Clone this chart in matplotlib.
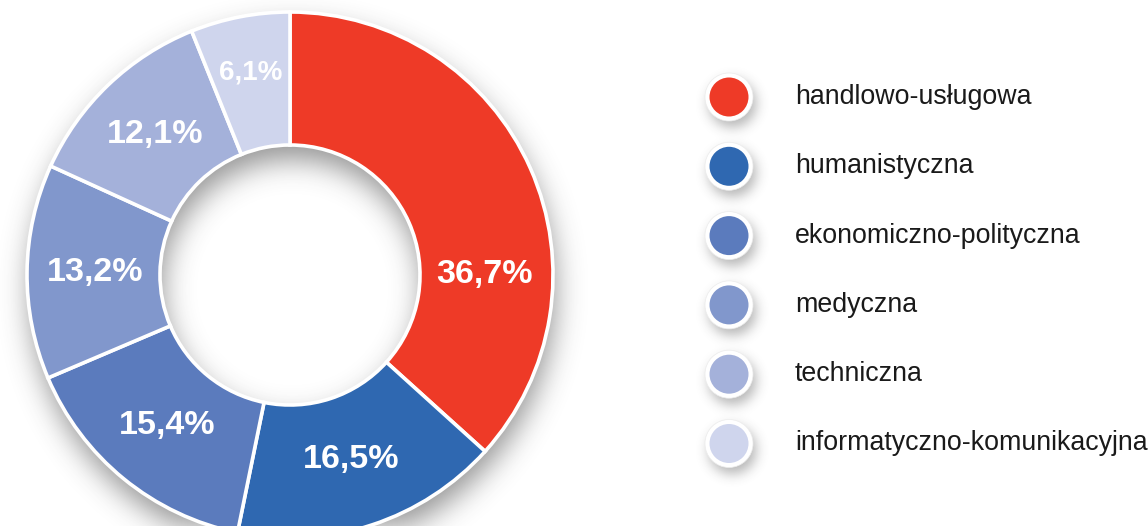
import numpy as np
import matplotlib
matplotlib.use('Agg')
import matplotlib.pyplot as plt
from matplotlib.patches import Circle

plt.rcParams['font.family'] = ['Liberation Sans', 'DejaVu Sans']

W, H = 1148, 526

categories = ['handlowo-usługowa', 'humanistyczna', 'ekonomiczno-polityczna',
              'medyczna', 'techniczna', 'informatyczno-komunikacyjna']
shares = [36.7, 16.5, 15.4, 13.2, 12.1, 6.1]
colors = ['#EE3A27', '#2F68B1', '#5B7BBD', '#8197CC', '#A4B1DA', '#CFD5ED']

# layout (pixels, y measured from top)
cx, cy = 290, 275
r_out, r_in = 263, 130
leg_x, leg_y0, leg_dy = 729, 97, 69.3
leg_r_out, leg_r_in = 24, 19.5


def blur(img, sigma):
    k = np.arange(-3 * sigma, 3 * sigma + 1)
    g = np.exp(-k ** 2 / (2.0 * sigma ** 2))
    g /= g.sum()
    out = np.apply_along_axis(lambda m: np.convolve(m, g, mode='same'), 0, img)
    out = np.apply_along_axis(lambda m: np.convolve(m, g, mode='same'), 1, out)
    return out


# soft drop shadows behind the ring and the legend dots
yy, xx = np.mgrid[0:H, 0:W]
d = np.hypot(xx - (cx + 2), yy - (cy + 14))
mask = ((d <= r_out) & (d >= r_in)).astype(float)
ring_sh = blur(mask, 14) * 0.55
lm = np.zeros((H, W))
for i in range(len(categories)):
    dl = np.hypot(xx - (leg_x + 3), yy - (leg_y0 + i * leg_dy + 6))
    lm[dl <= leg_r_out] = 1.0
leg_sh = blur(lm, 6) * 0.38
alpha = np.clip(ring_sh + leg_sh, 0, 1)
shadow = np.zeros((H, W, 4))
shadow[..., :3] = 0.25
shadow[..., 3] = alpha

fig = plt.figure(figsize=(W / 100, H / 100), dpi=100)
ax = fig.add_axes([0, 0, 1, 1])
ax.imshow(shadow, extent=(0, W, 0, H), origin='upper', zorder=0,
          interpolation='bilinear')

wedges, texts, pcts = ax.pie(
    shares, colors=colors, startangle=90, counterclock=False,
    radius=r_out, center=(cx, H - cy),
    wedgeprops=dict(width=r_out - r_in, edgecolor='white', linewidth=2.6),
    autopct=lambda p: f'{p:.1f}%'.replace('.', ','), pctdistance=0.74,
    textprops=dict(color='white', fontsize=24.5, fontweight='bold'))

# red label sits on the horizontal axis, small one a bit further out
pcts[0].set_position((cx + 0.74 * r_out, H - cy))
x5, y5 = pcts[5].get_position()
pcts[5].set_position((cx + (x5 - cx) * 1.06, H - cy + (y5 - (H - cy)) * 1.06))
pcts[5].set_fontsize(20)
for w in wedges:
    w.set_zorder(2)
for t in pcts:
    t.set_zorder(3)

for i, (cat, col) in enumerate(zip(categories, colors)):
    y = H - (leg_y0 + i * leg_dy)
    ax.add_patch(Circle((leg_x, y), leg_r_out, facecolor='white',
                        edgecolor='#ececec', linewidth=0.5, zorder=2))
    ax.add_patch(Circle((leg_x, y), leg_r_in, facecolor=col, zorder=3))
    ax.text(795, y, cat, fontsize=19.3, color='#1a1a1a', va='center',
            ha='left', zorder=3)

ax.set_xlim(0, W)
ax.set_ylim(0, H)
ax.axis('off')
fig.savefig('out.png', dpi=100, facecolor='white')
